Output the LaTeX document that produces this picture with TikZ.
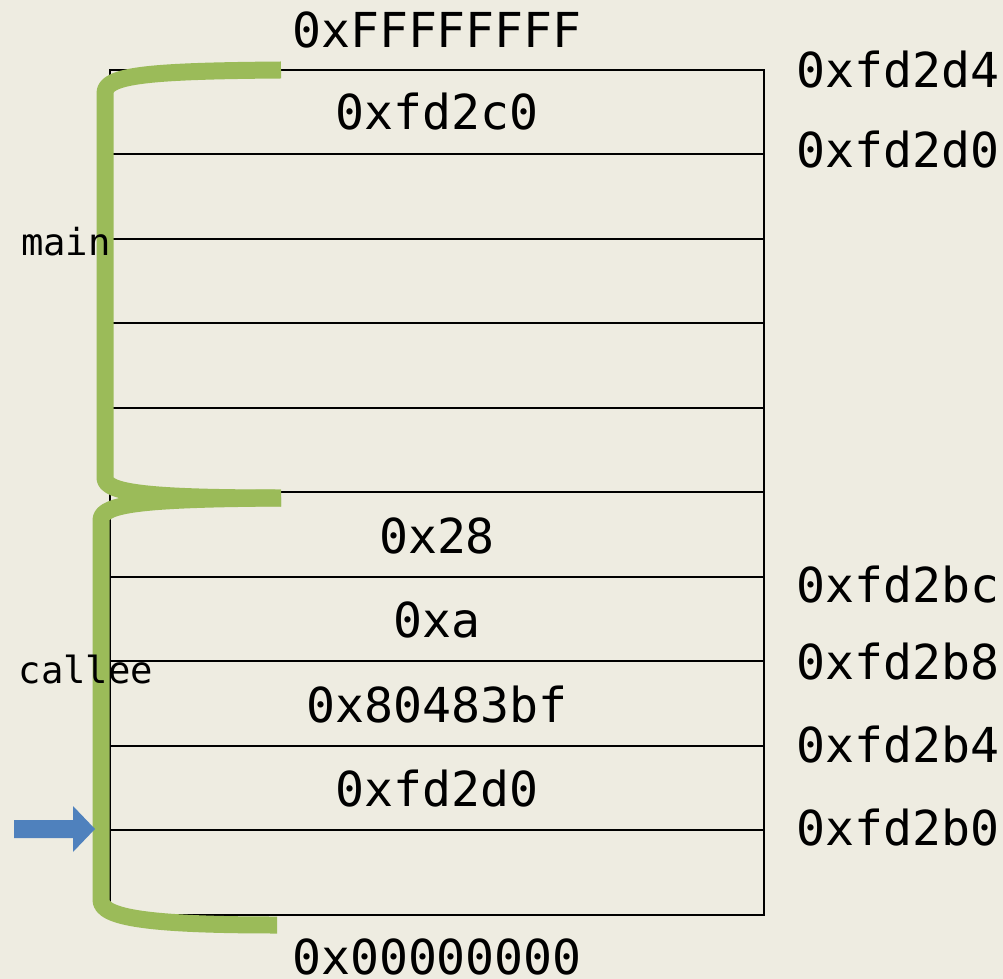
\documentclass[tikz,border=0pt]{standalone}
\usepackage{fontspec}
\setmonofont{DejaVu Sans Mono}
\usetikzlibrary{positioning,calc}
\definecolor{bgtan}{HTML}{EEECE1}
\definecolor{bracegreen}{HTML}{9BBB59}
\definecolor{arrowblue}{HTML}{4F81BD}
\tikzset{
  every picture/.style={line width=1.6pt},
  bigtxt/.style={font=\ttfamily\fontsize{27.4}{31}\selectfont, inner sep=0pt},
  smalltxt/.style={font=\ttfamily\fontsize{21.2}{24}\selectfont, inner sep=0pt},
  brace/.style={bracegreen, line width=0.34cm, line cap=butt, line join=round},
}

\begin{document}
\begin{tikzpicture}[x=0.02cm,y=-0.02cm]
    % background
    \fill[bgtan] (0,0) rectangle (1003,979);
    \useasboundingbox (0,0) rectangle (1003,979);

    % === stack frame ===
    \draw (110,70) rectangle (764,915);
    \foreach \y in {154,239,323,408,492,577,661,746,830} {
        \draw (110,\y) -- (764,\y);
    }

    % cell contents
    \node[bigtxt] (top)    at (437,30)  {0xFFFFFFFF};
    \node[bigtxt] (ebp)    at (437,112) {0xfd2c0};
    \node[bigtxt] (arg2)   at (437,536) {0x28};
    \node[bigtxt] (arg1)   at (437,620) {0xa};
    \node[bigtxt] (ret)    at (437,705) {0x80483bf};
    \node[bigtxt] (oldebp) at (437,789) {0xfd2d0};
    \node[bigtxt] (bottom) at (437,957) {0x00000000};

    % addresses
    \node[bigtxt,anchor=west] (a1) at (795,70)  {0xfd2d4};
    \node[bigtxt,anchor=west] (a2) at (795,150) {0xfd2d0};
    \node[bigtxt,anchor=west] (a3) at (795,585) {0xfd2bc};
    \node[bigtxt,anchor=west] (a4) at (795,662) {0xfd2b8};
    \node[bigtxt,anchor=west] (a5) at (795,745) {0xfd2b4};
    \node[bigtxt,anchor=west] (a6) at (795,828) {0xfd2b0};

    % === braces ===
    \draw[brace] (281,70) .. controls (150,71) and (105,75) .. (105,93)
        -- (105,478) .. controls (105,493) and (150,498) .. (281,498);
    \draw[brace] (281,498) .. controls (150,499) and (101,503) .. (101,520)
        -- (101,900) .. controls (101,918) and (150,925) .. (277,925);
    \node[smalltxt] (main)   at (66,242) {main};
    \node[smalltxt] (callee) at (86,670) {callee};

    % esp arrow
    \fill[arrowblue] (14,820) -- (73,820) -- (73,806) -- (95,829)
        -- (73,852) -- (73,838) -- (14,838) -- cycle;
\end{tikzpicture}
\end{document}
